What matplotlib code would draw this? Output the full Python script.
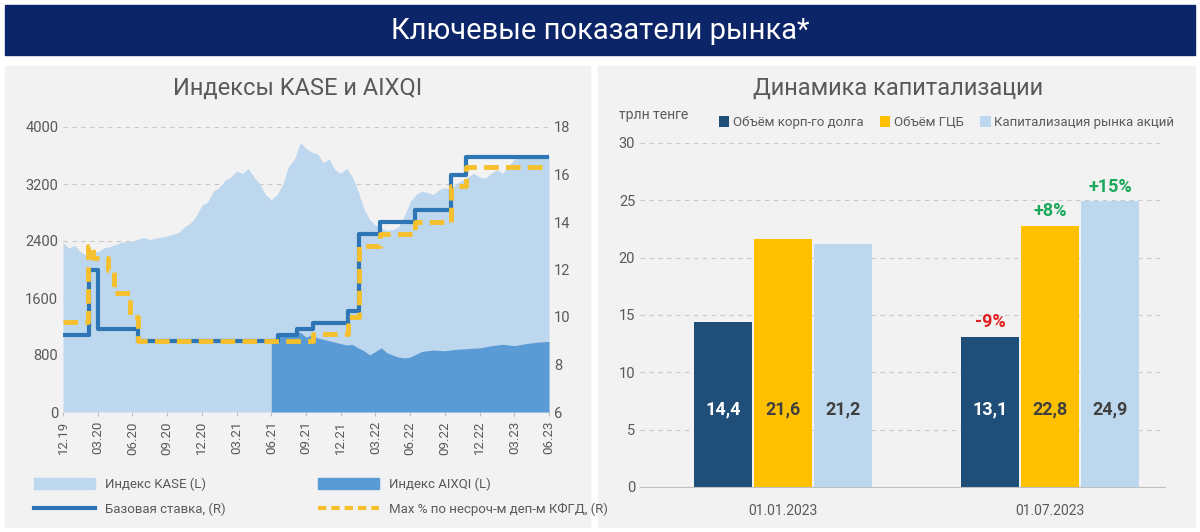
import numpy as np
import matplotlib
matplotlib.use("Agg")
import matplotlib.pyplot as plt
from matplotlib.patches import Rectangle, Patch
from matplotlib.lines import Line2D

plt.rcParams["font.family"] = ["Roboto", "DejaVu Sans"]

# ---- left chart data (months since 12.2019)
tick_labels = ["12.19", "03.20", "06.20", "09.20", "12.20", "03.21", "06.21", "09.21",
               "12.21", "03.22", "06.22", "09.22", "12.22", "03.23", "06.23"]
kase_t = [0, 0.5, 1, 1.5, 2, 2.5, 3, 3.5, 4, 5, 6, 7, 7.5, 8, 9, 10, 10.5, 11, 11.5, 12,
          12.5, 13, 13.5, 14, 14.5, 15, 15.5, 16, 16.5, 17, 17.5, 18, 18.5, 19, 19.5, 20,
          20.5, 21, 21.5, 22, 22.5, 23, 23.5, 24, 24.5, 25, 25.5, 26, 26.5, 27, 27.5, 28,
          28.5, 29, 29.5, 30, 30.5, 31, 31.5, 32, 32.5, 33, 33.5, 34, 34.5, 35, 35.5, 36,
          36.5, 37, 37.5, 38, 38.5, 39, 39.5, 40, 40.5, 41, 41.5, 42]
kase_v = [2380, 2300, 2340, 2250, 2200, 2260, 2250, 2300, 2320, 2380, 2400, 2450, 2420,
          2440, 2470, 2520, 2600, 2650, 2750, 2900, 2950, 3100, 3150, 3250, 3300, 3380,
          3350, 3420, 3300, 3200, 3050, 2980, 3050, 3200, 3450, 3550, 3780, 3700, 3650,
          3620, 3500, 3550, 3400, 3350, 3420, 3300, 3100, 2850, 2700, 2620, 2580, 2550,
          2560, 2600, 2750, 2950, 3050, 3100, 3080, 3050, 3120, 3150, 3120, 3200, 3250,
          3300, 3350, 3300, 3280, 3350, 3400, 3350, 3450, 3550, 3580, 3560, 3600, 3580,
          3600, 3620]
aixqi_t = [18, 18.5, 19, 19.5, 20, 20.5, 21, 21.5, 22, 22.5, 23, 23.5, 24, 24.5, 25,
           25.5, 26, 26.5, 27, 27.5, 28, 28.5, 29, 29.5, 30, 31, 32, 33, 34, 35, 36, 37,
           38, 39, 40, 41, 42]
aixqi_v = [1000, 1060, 1080, 1100, 1090, 1120, 1050, 1080, 1040, 1020, 1000, 980, 960,
           940, 950, 900, 860, 800, 850, 900, 830, 800, 770, 760, 770, 850, 870, 860,
           880, 890, 900, 930, 950, 930, 960, 980, 990]
base_t = [0, 2.26, 3.0, 6.46, 18.6, 20.2, 21.6, 24.6, 25.6, 27.4, 30.4, 33.5, 34.8, 42]
base_v = [9.25, 12.0, 9.5, 9.0, 9.25, 9.5, 9.75, 10.25, 13.5, 14.0, 14.5, 16.0, 16.75, 16.75]
dep_t = [0, 2.2, 2.6, 3.9, 4.4, 5.8, 6.5, 21.6, 24.6, 25.6, 27.4, 30.4, 33.5, 34.8, 42]
dep_v = [9.8, 13.0, 12.5, 12.0, 11.0, 10.0, 9.0, 9.3, 10.0, 13.0, 13.5, 14.0, 15.5, 16.3, 16.3]

# ---- right chart data
groups = ["01.01.2023", "01.07.2023"]
corp_debt = [14.4, 13.1]
gov_sec = [21.6, 22.8]
equity_cap = [21.2, 24.9]
changes = ["-9%", "+8%", "+15%"]

NAVY = "#1f4e79"
YEL = "#ffc000"
LBLUE = "#bdd7ee"
MBLUE = "#5b9bd5"
GREY = "#595959"

fig = plt.figure(figsize=(12, 5.32), dpi=100)
fig.patch.set_facecolor("white")
# banner and panels
fig.add_artist(Rectangle((5 / 1200, 1 - 55 / 532), 1190 / 1200, 50 / 532,
                         transform=fig.transFigure, color="#0b2568", zorder=0))
fig.text(0.5, 1 - 31 / 532, "Ключевые показатели рынка*", color="white",
         fontsize=21, ha="center", va="center")
for x0, x1 in [(5, 590), (598, 1195)]:
    fig.add_artist(Rectangle((x0 / 1200, 0.01), (x1 - x0) / 1200, 1 - 66 / 532 - 0.01,
                             transform=fig.transFigure, color="#f2f2f2", zorder=0))
fig.text(298 / 1200, 1 - 88 / 532, "Индексы KASE и AIXQI", fontsize=17, color=GREY,
         ha="center", va="center")
fig.text(898 / 1200, 1 - 88 / 532, "Динамика капитализации", fontsize=17, color=GREY,
         ha="center", va="center")

# ---- left chart
ax = fig.add_axes([63 / 1200, 1 - 412 / 532, 486 / 1200, 285 / 532])
ax.set_facecolor("none")
ax.fill_between(kase_t, kase_v, color=LBLUE, lw=0)
ax.fill_between(aixqi_t, aixqi_v, color=MBLUE, lw=0)
ax.set_xlim(0, 42)
ax.set_ylim(0, 4000)
ax.set_yticks(range(0, 4001, 800))
ax.set_xticks(range(0, 43, 3))
ax.set_xticklabels(tick_labels, rotation=90)
ax.grid(axis="y", ls=(0, (4, 4)), color="#c8c8c8")
ax.set_axisbelow(True)
for s in ax.spines.values():
    s.set_visible(False)
ax.tick_params(colors=GREY, labelsize=10.5, length=0)
ax.tick_params(axis="x", length=3, color="#bfbfbf", labelsize=9.5)
ax2 = ax.twinx()
ax2.step(base_t, base_v, where="post", color="#2e75b6", lw=3)
ax2.step(dep_t, dep_v, where="post", color="#f5c02c", lw=3.5, ls=(0, (3, 1.5)))
ax2.set_ylim(6, 18)
ax2.set_yticks(range(6, 19, 2))
for s in ax2.spines.values():
    s.set_visible(False)
ax2.tick_params(colors=GREY, labelsize=10.5, length=0)

# column-first fill: row 1 = KASE, AIXQI; row 2 = base rate, deposit rate
handles = [Patch(color=LBLUE), Line2D([], [], color="#2e75b6", lw=3),
           Patch(color=MBLUE), Line2D([], [], color="#f5c02c", lw=3, ls=(0, (2, 1.2)))]
labels = ["Индекс KASE (L)", "Базовая ставка, (R)", "Индекс AIXQI (L)",
          "Max % по несроч-м деп-м КФГД, (R)"]
fig.legend(handles, labels, ncol=2, loc="center left",
           bbox_to_anchor=(22 / 1200, 1 - 497 / 532),
           frameon=False, fontsize=9.5, labelcolor=GREY, columnspacing=7,
           handlelength=4.6, handleheight=0.9, labelspacing=0.9)

# ---- right chart
bx = fig.add_axes([640 / 1200, 1 - 487 / 532, 525 / 1200, 344 / 532])
bx.set_facecolor("none")
x = np.arange(len(groups))
w, off = 0.217, 0.225
series = [(corp_debt, NAVY, "Объём корп-го долга", "white"),
          (gov_sec, YEL, "Объём ГЦБ", "#404040"),
          (equity_cap, LBLUE, "Капитализация рынка акций", "#404040")]
for i, (vals, col, lab, tc) in enumerate(series):
    bars = bx.bar(x + (i - 1) * off, vals, w, color=col, label=lab)
    for b, v in zip(bars, vals):
        bx.text(b.get_x() + w / 2, 6.8, f"{v:.1f}".replace(".", ","), ha="center",
                va="center", color=tc, fontsize=13, fontweight="bold")
for i, (vals, txt) in enumerate(zip([corp_debt, gov_sec, equity_cap], changes)):
    col = "#e02020" if txt.startswith("-") else "#1aa85a"
    bx.text(1 + (i - 1) * off, vals[1] + 0.5, txt, ha="center", va="bottom",
            color=col, fontsize=13, fontweight="bold")
bx.set_xlim(-0.536, 1.43)
bx.set_ylim(0, 30)
bx.set_yticks(range(0, 31, 5))
bx.set_xticks(x)
bx.set_xticklabels(groups)
bx.grid(axis="y", ls=(0, (4, 4)), color="#c8c8c8")
bx.set_axisbelow(True)
for s in bx.spines.values():
    s.set_visible(False)
bx.spines["bottom"].set_visible(True)
bx.spines["bottom"].set_color("#bfbfbf")
bx.tick_params(colors=GREY, labelsize=10.5, length=0)
bx.tick_params(axis="x", pad=12, labelsize=10)
bx.text(-0.04, 1.07, "трлн тенге", transform=bx.transAxes, fontsize=10, color=GREY,
        ha="left")
bx.legend(loc="lower left", bbox_to_anchor=(0.14, 1.025), ncol=3, frameon=False,
          fontsize=9.5, labelcolor=GREY, handlelength=0.8, handleheight=0.8,
          handletextpad=0.3, columnspacing=1.2, borderaxespad=0)

fig.savefig("out.png", dpi=100, facecolor="white")
